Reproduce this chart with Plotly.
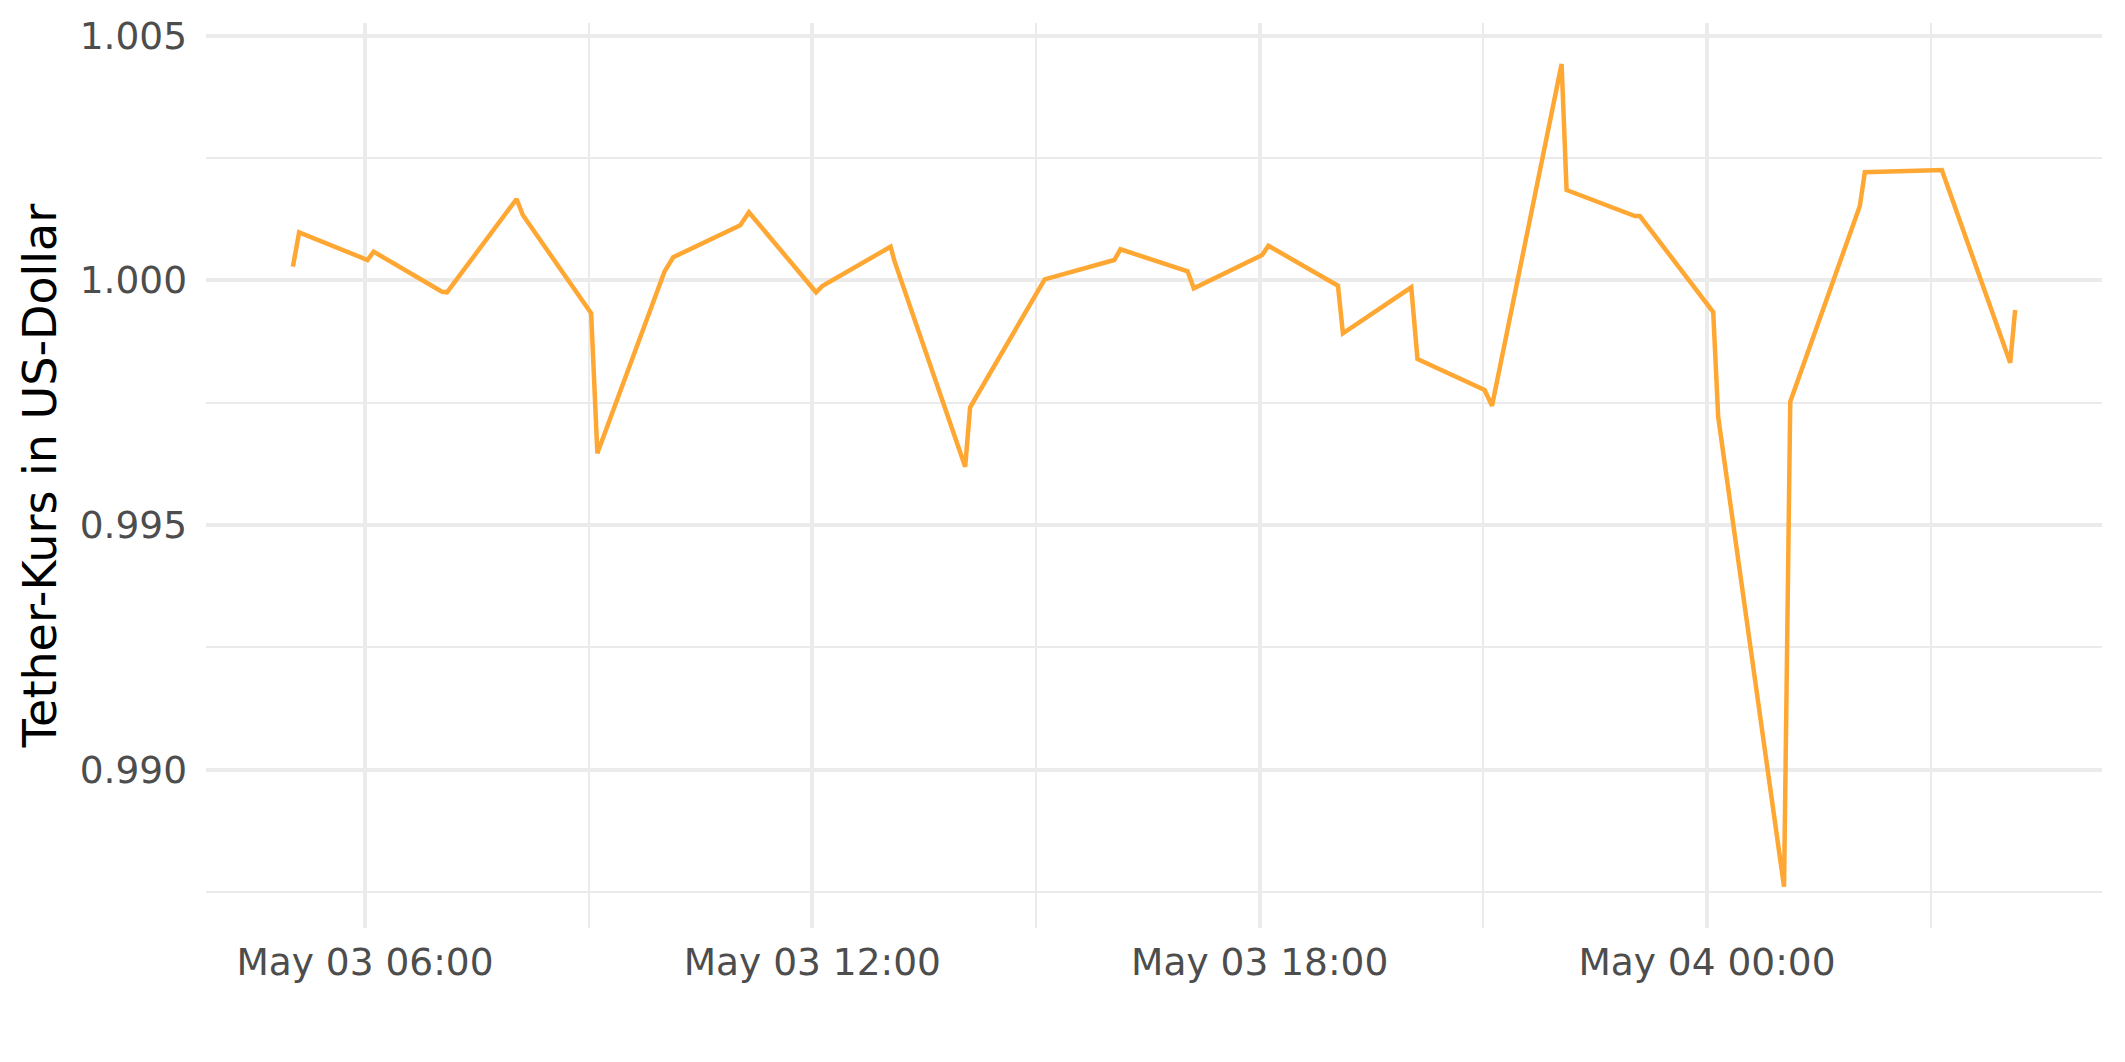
import plotly.graph_objects as go

# Timestamps (UTC) and Tether price in USD
times = [
    "2024-05-03 05:02", "2024-05-03 05:07", "2024-05-03 06:02", "2024-05-03 06:07",
    "2024-05-03 07:02", "2024-05-03 07:06", "2024-05-03 08:02", "2024-05-03 08:07",
    "2024-05-03 09:02", "2024-05-03 09:07", "2024-05-03 10:01", "2024-05-03 10:08",
    "2024-05-03 11:02", "2024-05-03 11:09", "2024-05-03 12:03", "2024-05-03 12:08",
    "2024-05-03 13:03", "2024-05-03 13:06", "2024-05-03 14:03", "2024-05-03 14:07",
    "2024-05-03 15:07", "2024-05-03 16:03", "2024-05-03 16:08", "2024-05-03 17:02",
    "2024-05-03 17:07", "2024-05-03 18:02", "2024-05-03 18:07", "2024-05-03 19:03",
    "2024-05-03 19:07", "2024-05-03 20:02", "2024-05-03 20:07", "2024-05-03 21:01",
    "2024-05-03 21:07", "2024-05-03 22:03", "2024-05-03 22:07", "2024-05-03 23:02",
    "2024-05-03 23:06", "2024-05-04 00:05", "2024-05-04 00:09", "2024-05-04 01:02",
    "2024-05-04 01:07", "2024-05-04 02:03", "2024-05-04 02:07", "2024-05-04 03:09",
    "2024-05-04 04:04", "2024-05-04 04:08",
]
prices = [
    1.000278, 1.000981, 1.000415, 1.000585,
    0.999767, 0.999755, 1.001662, 1.001335,
    0.999325, 0.996464, 1.000176, 1.000470,
    1.001124, 1.001390, 0.999755, 0.999883,
    1.000687, 1.000401, 0.996190, 0.997404,
    1.000020, 1.000415, 1.000634, 1.000184,
    0.999836, 1.000517, 1.000707, 0.999890,
    0.998917, 0.999857, 0.998391, 0.997758,
    0.997437, 1.004422, 1.001846, 1.001314,
    1.001314, 0.999352, 0.997210, 0.987602,
    0.997518, 1.001519, 1.002208, 1.002255,
    0.998316, 0.999393,
]
y_title = "Tether-Kurs in US-Dollar"
x_range = ["2024-05-03 03:52:03", "2024-05-04 05:17:53"]
y_range = [0.98676, 1.00526]

fig = go.Figure()
fig.add_trace(go.Scatter(
    x=times, y=prices, mode="lines",
    line=dict(color="#FFA733", width=4.5),
    hoverinfo="skip", showlegend=False,
))

grid = "#EBEBEB"
tick_font = dict(family="DejaVu Sans", size=37.5, color="#4D4D4D")

# page body has an 8px default margin; size the figure to fit inside the window
fig.update_layout(
    width=2109, height=1046,
    margin=dict(l=198, r=15, t=15, b=126, autoexpand=False),
    paper_bgcolor="white", plot_bgcolor="white",
    font=dict(family="DejaVu Sans"),
    showlegend=False,
)
fig.update_xaxes(
    type="date", range=x_range, automargin=False,
    tick0="2024-05-03 00:00", dtick=6 * 3600 * 1000,
    tickformat="%b %d %H:%M",
    showgrid=True, gridcolor=grid, gridwidth=3.5,
    minor=dict(dtick=3 * 3600 * 1000, tick0="2024-05-03 00:00",
               showgrid=True, gridcolor=grid, gridwidth=2),
    zeroline=False, showline=False, ticks="",
    tickfont=tick_font, ticklabelstandoff=8,
)
fig.update_yaxes(
    range=y_range, tick0=0.99, dtick=0.005, tickformat=".3f", automargin=False,
    showgrid=True, gridcolor=grid, gridwidth=3.5,
    minor=dict(dtick=0.0025, tick0=0.99, showgrid=True, gridcolor=grid, gridwidth=2),
    zeroline=False, showline=False, ticks="",
    tickfont=tick_font, ticklabelstandoff=18,
    title=dict(text=y_title, font=dict(family="DejaVu Sans", size=46, color="black"),
               standoff=8),
)

fig.write_html("out.html")
